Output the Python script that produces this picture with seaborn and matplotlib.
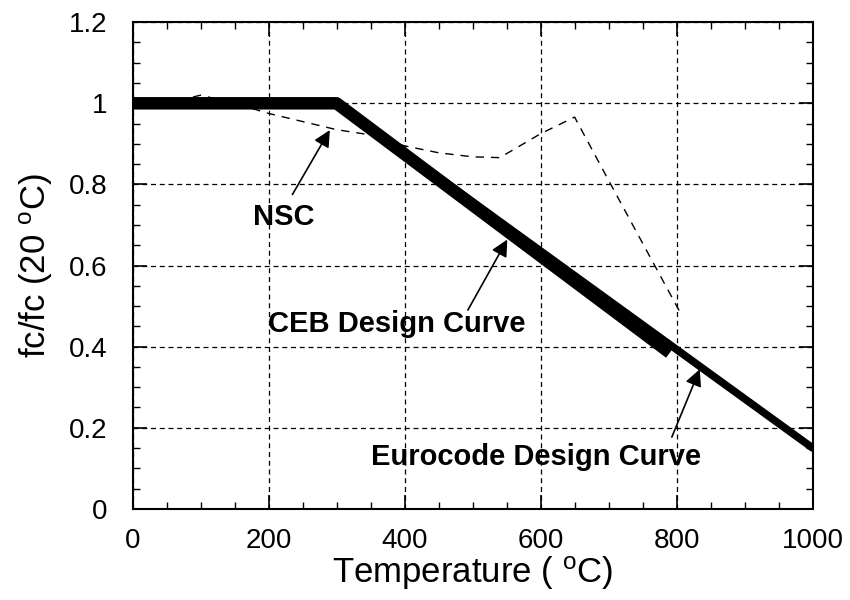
import matplotlib
matplotlib.use("Agg")
import matplotlib.pyplot as plt
import seaborn as sns
import numpy as np
import pandas as pd
from matplotlib.ticker import MultipleLocator

# Data
nsc_temp = [0, 50, 100, 150, 200, 300, 350, 400, 450, 500, 540, 600, 650, 700, 750, 805]
nsc_ratio = [1.0, 1.0, 1.02, 1.0, 0.975, 0.935, 0.922, 0.895, 0.878, 0.868, 0.866, 0.925, 0.966, 0.81, 0.655, 0.485]

ceb_temp = [0, 300, 790]
ceb_ratio = [1.0, 1.0, 0.385]

euro_temp = [0, 300, 1000]
euro_ratio = [1.0, 1.0, 0.15]

x_ticks = [0, 200, 400, 600, 800, 1000]
y_ticks = [0, 0.2, 0.4, 0.6, 0.8, 1.0, 1.2]
y_tick_labels = ["0", "0.2", "0.4", "0.6", "0.8", "1", "1.2"]

sns.set_theme(style="white")
plt.rcParams['font.family'] = ['Liberation Sans', 'DejaVu Sans']
plt.rcParams['mathtext.fontset'] = 'custom'
plt.rcParams['mathtext.rm'] = 'Liberation Sans'
plt.rcParams['mathtext.it'] = 'Liberation Sans:italic'
plt.rcParams['mathtext.bf'] = 'Liberation Sans:bold'
for k in ['text.color', 'axes.labelcolor', 'xtick.color', 'ytick.color']:
    plt.rcParams[k] = 'black'

fig = plt.figure(figsize=(8.5, 6), dpi=100)
ax = fig.add_axes([0.156, 0.152, 0.8, 0.811])

nsc_df = pd.DataFrame({"T": nsc_temp, "r": nsc_ratio})
ceb_df = pd.DataFrame({"T": ceb_temp, "r": ceb_ratio})
euro_df = pd.DataFrame({"T": euro_temp, "r": euro_ratio})

sns.lineplot(data=nsc_df, x="T", y="r", ax=ax, color="black", lw=1.0,
             linestyle=(0, (6, 5)), zorder=3)
sns.lineplot(data=euro_df, x="T", y="r", ax=ax, color="black", lw=5.5,
             zorder=4, solid_capstyle="round")
sns.lineplot(data=ceb_df, x="T", y="r", ax=ax, color="black", lw=9,
             zorder=4, solid_capstyle="butt")

ax.set_xlim(0, 1000)
ax.set_ylim(0, 1.2)
ax.set_xticks(x_ticks)
ax.set_xticklabels([str(v) for v in x_ticks])
ax.set_yticks(y_ticks)
ax.set_yticklabels(y_tick_labels)
ax.xaxis.set_minor_locator(MultipleLocator(50))
ax.yaxis.set_minor_locator(MultipleLocator(0.05))
ax.tick_params(which="both", direction="in", top=True, right=True,
               bottom=True, left=True, color="black")
ax.tick_params(which="major", length=10, width=1.2, labelsize=20)
ax.tick_params(axis="x", which="major", pad=14)
ax.tick_params(axis="y", which="major", pad=18)
ax.tick_params(which="minor", length=5, width=1.0)

ax.grid(True, which="major", color="black", linestyle=(0, (4, 3)), lw=0.9)
for s in ax.spines.values():
    s.set_color("black")
    s.set_linewidth(1.5)

ax.set_xlabel(r"Temperature ( $^{\rm o}$C)", fontsize=25, labelpad=0)
ax.set_ylabel(r"fc/fc (20 $^{\rm o}$C)", fontsize=25, labelpad=10)

bold = dict(fontsize=21, fontweight="bold", ha="center", va="center")
arrow = dict(arrowstyle="-|>", color="black", lw=1.2, mutation_scale=25,
             shrinkA=0, shrinkB=0)
ax.annotate("", xy=(290, 0.934), xytext=(235, 0.775), arrowprops=arrow)
ax.text(222, 0.72, "NSC", **bold)
ax.annotate("", xy=(551, 0.664), xytext=(493, 0.49), arrowprops=arrow)
ax.text(388, 0.455, "CEB Design Curve", **bold)
ax.annotate("", xy=(834, 0.344), xytext=(793, 0.177), arrowprops=arrow)
ax.text(594, 0.128, "Eurocode Design Curve", **bold)

fig.savefig("out.png", dpi=100)
